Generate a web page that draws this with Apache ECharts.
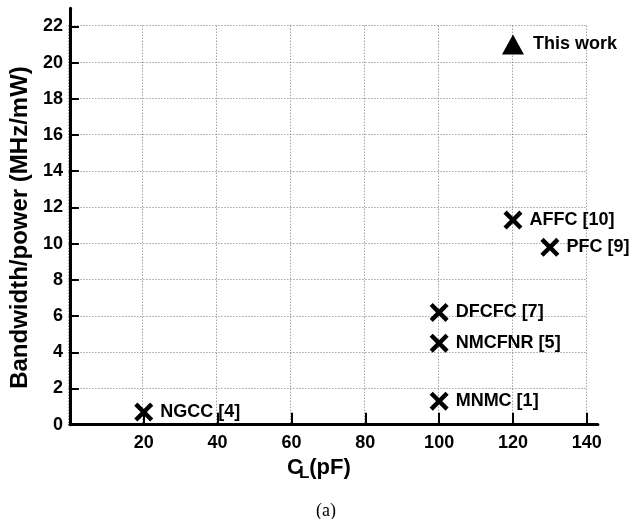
<!DOCTYPE html>
<html>
<head>
<meta charset="utf-8">
<title>Bandwidth/power vs CL</title>
<script src="https://cdn.jsdelivr.net/npm/echarts@6/dist/echarts.min.js"></script>
<style>
	html, body { margin: 0; padding: 0; background: #fff; }
	#main { width: 634px; height: 519px; }
</style>
</head>
<body>
<div id="main"></div>
<script>
// reference designs (crosses)
var refNames = ["NGCC [4]", "MNMC [1]", "NMCFNR [5]", "DFCFC [7]", "AFFC [10]", "PFC [9]"];
var refCL = [20, 100, 100, 100, 120, 130];
var refBWP = [0.7, 1.3, 4.5, 6.2, 11.3, 9.8];

// this work (triangle)
var workNames = ["This work"];
var workCL = [120];
var workBWP = [21];

var xTicks = [20, 40, 60, 80, 100, 120, 140];
var yTicks = [0, 2, 4, 6, 8, 10, 12, 14, 16, 18, 20, 22];

var myChart = echarts.init(document.getElementById("main"));

// thick "X" marker
var crossPath = "path://M0,3.3L3.3,0L20,16.7L16.7,20Z M16.7,0L20,3.3L3.3,20L0,16.7Z";

function pairs(xs, ys, names) {
	var out = [];
	for (var i = 0; i < xs.length; i++) {
		out.push({ name: names[i], value: [xs[i], ys[i]] });
	}
	return out;
}

var font = "Liberation Sans, Arial, Helvetica, sans-serif";
var axisW = 3;

var option = {
	animation: false,
	backgroundColor: "#fff",
	title: {
		text: "(a)",
		left: 311,
		top: 497,
		textStyle: { fontFamily: "Liberation Serif, Times New Roman, serif", fontSize: 18, fontWeight: "normal", color: "#000" }
	},
	grid: [
		// dotted grid box 0..140, 0..22
		{ left: 68.4, top: 25.7, width: 518.3, height: 399 },
		// axes 0..143, 0..23
		{ left: 68.4, top: 8.3, width: 529.5, height: 416.4 }
	],
	xAxis: [
		{
			gridIndex: 0, type: "value", min: 0, max: 140, interval: 20,
			axisLine: { show: false }, axisTick: { show: false }, axisLabel: { show: false },
			splitLine: { show: true, lineStyle: { color: "#777", type: [1, 2], width: 1 } }
		},
		{
			gridIndex: 1, type: "value", min: 0, max: 143,
			name: "{c|C}{l|L}{c|(pF)}",
			nameLocation: "middle",
			nameGap: 22,
			nameTextStyle: {
				padding: [0, 30, 0, 0],
				rich: {
					c: { fontFamily: font, fontSize: 22, fontWeight: "bold", color: "#000" },
					l: { fontFamily: font, fontSize: 17, fontWeight: "bold", color: "#000", padding: [12, 0, 0, -4] }
				}
			},
			axisLine: { show: true, lineStyle: { color: "#000", width: axisW } },
			axisTick: { show: true, inside: true, length: 12, customValues: xTicks, lineStyle: { color: "#000", width: 2 } },
			axisLabel: { customValues: xTicks, margin: 9, fontFamily: font, fontSize: 18, fontWeight: "bold", color: "#000" },
			splitLine: { show: false }
		}
	],
	yAxis: [
		{
			gridIndex: 0, type: "value", min: 0, max: 22, interval: 2,
			axisLine: { show: false }, axisTick: { show: false }, axisLabel: { show: false },
			splitLine: { show: true, lineStyle: { color: "#777", type: [1, 2], width: 1 } }
		},
		{
			gridIndex: 1, type: "value", min: 0, max: 23,
			name: "Bandwidth/power (MHz/mW)",
			nameLocation: "middle",
			nameGap: 33,
			nameTextStyle: { fontFamily: font, fontSize: 24, fontWeight: "bold", color: "#000", padding: [0, 22, 0, 0] },
			axisLine: { show: true, lineStyle: { color: "#000", width: axisW } },
			axisTick: { show: true, inside: true, length: 9, customValues: yTicks, lineStyle: { color: "#000", width: 2 } },
			axisLabel: { customValues: yTicks, margin: 7, fontFamily: font, fontSize: 18, fontWeight: "bold", color: "#000", padding: [6, 0, 0, 0] },
			splitLine: { show: false }
		}
	],
	series: [
		{
			name: "Reported",
			type: "scatter",
			xAxisIndex: 1,
			yAxisIndex: 1,
			symbol: crossPath,
			symbolSize: 19,
			itemStyle: { color: "#000", opacity: 1 },
			label: {
				show: true, position: "right", distance: 7,
				formatter: "{b}",
				fontFamily: font, fontSize: 18, fontWeight: "bold", color: "#000"
			},
			data: pairs(refCL, refBWP, refNames)
		},
		{
			name: "This work",
			type: "scatter",
			xAxisIndex: 1,
			yAxisIndex: 1,
			symbol: "triangle",
			symbolSize: [22, 20],
			itemStyle: { color: "#000", opacity: 1 },
			label: {
				show: true, position: "right", distance: 9,
				formatter: "{b}",
				fontFamily: font, fontSize: 18, fontWeight: "bold", color: "#000"
			},
			data: pairs(workCL, workBWP, workNames)
		}
	]
};

myChart.setOption(option);
</script>
</body>
</html>
